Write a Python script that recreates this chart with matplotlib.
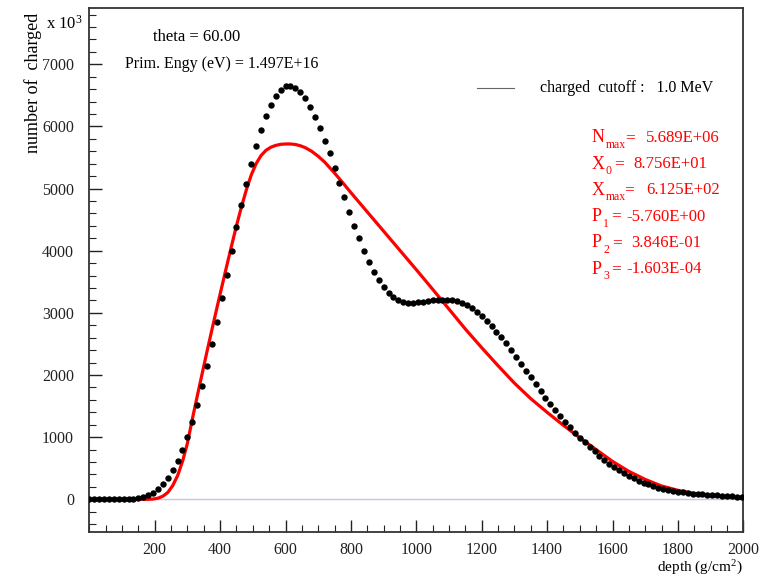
import matplotlib.pyplot as plt
from matplotlib.lines import Line2D

plt.rcParams['font.family'] = ['Liberation Serif', 'DejaVu Serif']
plt.rcParams['mathtext.fontset'] = 'custom'
plt.rcParams['mathtext.rm'] = 'Liberation Serif'
plt.rcParams['mathtext.it'] = 'Liberation Serif:italic'

# simulated profile (dots), depth in g/cm^2, number of charged in units of 10^3
depth = [0, 15, 30, 45, 60, 75, 90, 105, 120, 135, 150, 165, 180, 195, 210, 225,
         240, 255, 270, 285, 300, 315, 330, 345, 360, 375, 390, 405, 420, 435, 450,
         465, 480, 495, 510, 525, 540, 555, 570, 585, 600, 615, 630, 645, 660, 675,
         690, 705, 720, 735, 750, 765, 780, 795, 810, 825, 840, 855, 870, 885, 900,
         915, 930, 945, 960, 975, 990, 1005, 1020, 1035, 1050, 1065, 1080, 1095,
         1110, 1125, 1140, 1155, 1170, 1185, 1200, 1215, 1230, 1245, 1260, 1275,
         1290, 1305, 1320, 1335, 1350, 1365, 1380, 1395, 1410, 1425, 1440, 1455,
         1470, 1485, 1500, 1515, 1530, 1545, 1560, 1575, 1590, 1605, 1620, 1635,
         1650, 1665, 1680, 1695, 1710, 1725, 1740, 1755, 1770, 1785, 1800, 1815,
         1830, 1845, 1860, 1875, 1890, 1905, 1920, 1935, 1950, 1965, 1980, 1995]
charged = [0, 0, 0, 0, 0, 0, 0, 2, 5, 12, 26, 42, 64, 97, 166, 241,
           338, 467, 616, 793, 1007, 1244, 1523, 1823, 2150, 2494, 2858, 3235, 3614, 3996, 4377,
           4736, 5079, 5401, 5691, 5948, 6173, 6345, 6490, 6587, 6646, 6651, 6614, 6550, 6453, 6318,
           6157, 5980, 5771, 5568, 5327, 5095, 4860, 4628, 4403, 4200, 4001, 3824, 3663, 3529, 3411,
           3325, 3261, 3207, 3175, 3159, 3159, 3170, 3180, 3191, 3202, 3212, 3212, 3207,
           3202, 3191, 3164, 3127, 3079, 3014, 2950, 2869, 2789, 2698, 2607, 2510,
           2403, 2295, 2182, 2070, 1963, 1851, 1743, 1635, 1534, 1437, 1340, 1249,
           1164, 1072, 991, 917, 845, 770, 700, 630, 565, 515, 465, 420,
           375, 340, 300, 270, 245, 214, 190, 170, 152, 134, 118, 110,
           100, 92, 85, 78, 72, 67, 62, 57, 53, 49, 45, 42]

# fitted curve (red)
fit_depth = [0, 150, 180, 195, 210, 225, 240, 255, 270, 285, 300, 315, 330, 345, 360,
             375, 390, 405, 420, 435, 450, 465, 480, 495, 510, 525, 540, 555, 570, 585,
             600, 615, 630, 645, 660, 680, 700, 720, 750, 775, 800, 850, 900, 950, 1000,
             1050, 1100, 1150, 1200, 1250, 1300, 1350, 1400, 1450, 1500, 1550, 1600, 1650,
             1700, 1750, 1800, 1850, 1900, 1950, 2000]
fit_charged = [0, 0, 0, 4, 18, 50, 110, 220, 380, 610, 900, 1290, 1657, 2020, 2380,
               2730, 3075, 3415, 3750, 4080, 4400, 4700, 4975, 5215, 5400, 5530, 5615, 5665, 5695, 5712,
               5718, 5718, 5710, 5690, 5660, 5600, 5520, 5425, 5250, 5095, 4935, 4625, 4315, 4005, 3695,
               3380, 3060, 2740, 2440, 2150, 1870, 1620, 1400, 1190, 990, 800, 610, 450,
               320, 215, 145, 95, 60, 35, 15]

# fit parameter box
fit_letters = ['N', 'X', 'X', 'P', 'P', 'P']
fit_subs = ['max', '0', 'max', '1', '2', '3']
fit_values = ['5.689E+06', '8.756E+01', '6.125E+02', '-5.760E+00', '3.846E-01', '-1.603E-04']
sub_x = [606, 606, 606, 603, 603, 603]
eq_x = [625, 614, 624, 611, 612, 611]
value_x = [646, 633, 646, 626, 631, 626]

W, H = 761, 579
fig = plt.figure(figsize=(W / 100, H / 100), dpi=100)
ax = fig.add_axes([89.3 / W, 1 - 532 / H, (743.3 - 89.3) / W, (532 - 7.5) / H])

ax.axhline(0, color='#c4c4f0', lw=1.0, zorder=1)
ax.plot(fit_depth, fit_charged, color='#ff0000', lw=2.3, zorder=2)
ax.plot(depth, charged, 'o', color='black', ms=4.6, mec='none', zorder=3)

ax.set_xlim(0, 2000)
ax.set_ylim(-526, 7914)
ax.set_xticks(range(200, 2001, 200))
ax.set_xticks(range(0, 2001, 50), minor=True)
ax.set_yticks(range(0, 7001, 1000))
ax.set_yticks(range(-400, 7901, 200), minor=True)
ax.tick_params(which='both', direction='in', labelsize=11.5, colors='#222222')
ax.tick_params(which='major', length=9, width=1)
ax.tick_params(which='minor', length=5, width=0.8)
ax.tick_params(axis='y', pad=11)
ax.tick_params(axis='x', pad=7)
for s in ax.spines.values():
    s.set_linewidth(1.3)
    s.set_color('#333333')


def ftext(x, y, s, **kw):
    fig.text(x / W, 1 - y / H, s, **kw)


ftext(33, 83, 'number of  charged', rotation=90, ha='center', va='center', fontsize=13)
ftext(46, 24, r'x 10$^{3}$', ha='left', va='center', fontsize=12)
ftext(743, 568, r'depth (g/cm$^{2}$)', ha='right', va='center', fontsize=11)

ftext(153, 37, 'theta = 60.00', ha='left', va='center', fontsize=12)
ftext(125, 64, 'Prim. Engy (eV) = 1.497E+16', ha='left', va='center', fontsize=11.5)

fig.add_artist(Line2D([477 / W, 514 / W], [1 - 88 / H, 1 - 88 / H], color='#666666', lw=0.8))
ftext(540, 88, 'charged  cutoff :   1.0 MeV', ha='left', va='center', fontsize=11.5)

red = '#ff0000'
for i in range(len(fit_letters)):
    y = 138 + i * 26.2
    ftext(592, y, fit_letters[i], ha='left', va='center', fontsize=13, color=red)
    ftext(sub_x[i], y + 7, fit_subs[i], ha='left', va='center', fontsize=8.5, color=red)
    ftext(eq_x[i], y, '=', ha='left', va='center', fontsize=12.5, color=red)
    ftext(value_x[i], y, fit_values[i], ha='left', va='center', fontsize=12, color=red)

fig.savefig('out.png', dpi=100, facecolor='white')
